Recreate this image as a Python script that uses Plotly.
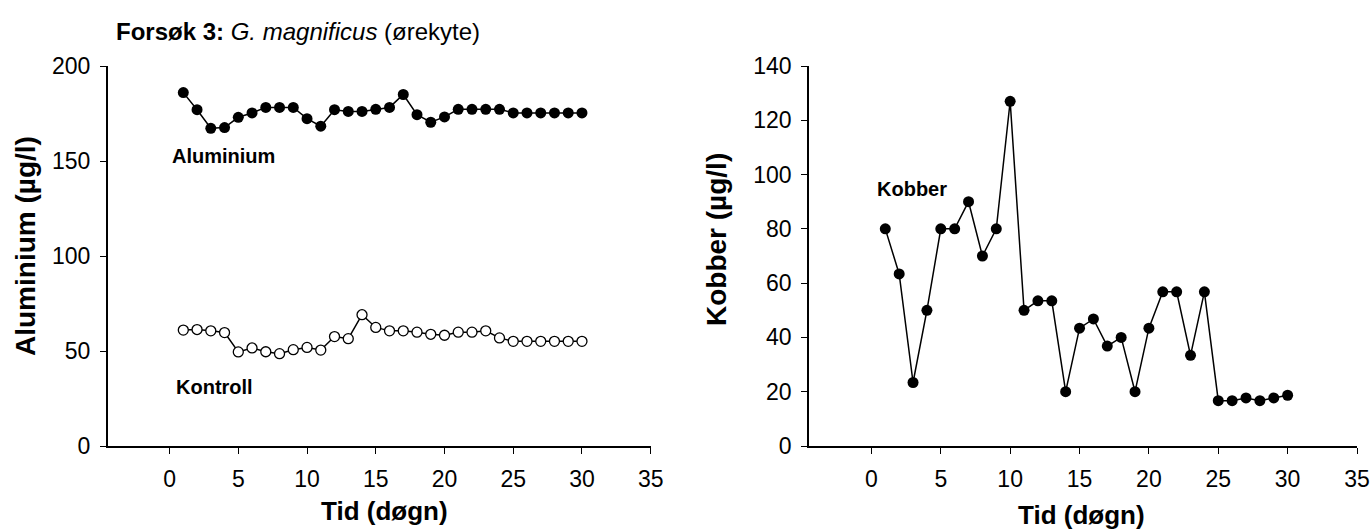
import plotly.graph_objects as go

days = list(range(1, 31))
aluminium = [186, 177, 167.2, 167.6, 173, 175.3, 178.2, 178.2, 178.2, 172.3,
             168.3, 177, 176.1, 176.1, 177.2, 178.2, 185, 174.4, 170.4, 173.2,
             177.2, 177.2, 177.2, 177.2, 175.3, 175.3, 175.3, 175.3, 175.3, 175.3]
kontroll = [61, 61.3, 60.6, 59.7, 49.5, 51.6, 49.6, 48.6, 50.7, 51.9,
            50.5, 57.6, 56.5, 69.1, 62.4, 60.6, 60.6, 59.9, 58.8, 58.3,
            59.9, 59.9, 60.6, 56.9, 55.1, 55.1, 55.1, 55.1, 55.1, 55.1]
kobber = [80, 63.4, 23.4, 50, 80, 80, 90, 70, 80, 127,
          50, 53.5, 53.5, 20, 43.4, 46.8, 36.8, 40, 20, 43.4,
          56.8, 56.8, 33.4, 56.8, 16.7, 16.7, 17.7, 16.7, 17.7, 18.7]

x_ticks = [0, 5, 10, 15, 20, 25, 30, 35]
al_ticks = [0, 50, 100, 150, 200]
cu_ticks = [0, 20, 40, 60, 80, 100, 120, 140]

FONT = "Liberation Sans, Arial, sans-serif"
W, H = 1372, 531

fig = go.Figure()
fig.add_trace(go.Scatter(x=days, y=aluminium, mode="lines+markers", name="Aluminium",
                         line=dict(color="black", width=1.5),
                         marker=dict(size=11, color="black"),
                         xaxis="x", yaxis="y"))
fig.add_trace(go.Scatter(x=days, y=kontroll, mode="lines+markers", name="Kontroll",
                         line=dict(color="black", width=1.5),
                         marker=dict(size=10, color="white", line=dict(color="black", width=1.3)),
                         xaxis="x", yaxis="y"))
fig.add_trace(go.Scatter(x=days, y=kobber, mode="lines+markers", name="Kobber",
                         line=dict(color="black", width=1.5),
                         marker=dict(size=11, color="black"),
                         xaxis="x2", yaxis="y2"))

y_dom = [1 - 446 / H, 1 - 66 / H]
axis_common = dict(showline=True, linecolor="black", linewidth=1.5, showgrid=False,
                   zeroline=False, ticks="outside", ticklen=6, tickwidth=1.3,
                   tickcolor="black", automargin=False,
                   tickfont=dict(family=FONT, size=23, color="black"))

fig.update_layout(
    template="none",
    width=W, height=H, margin=dict(l=0, r=0, t=0, b=0, pad=0, autoexpand=False),
    paper_bgcolor="white", plot_bgcolor="white", showlegend=False,
    font=dict(family=FONT, color="black"),
    xaxis=dict(domain=[107.7 / W, 650.7 / W], range=[-4.5, 35], tickvals=x_ticks,
               anchor="y", ticklabelstandoff=6, **axis_common),
    yaxis=dict(domain=y_dom, range=[0, 200], tickvals=al_ticks, anchor="x",
               ticklabelstandoff=5, **axis_common),
    xaxis2=dict(domain=[809 / W, 1357 / W], range=[-4.5, 35], tickvals=x_ticks,
                anchor="y2", ticklabelstandoff=6, **axis_common),
    yaxis2=dict(domain=y_dom, range=[0, 140], tickvals=cu_ticks, anchor="x2",
                ticklabelstandoff=5, **axis_common),
)

ann = []
ann.append(dict(text="<b>Forsøk 3:</b> <i>G. magnificus</i> (ørekyte)", xref="paper", yref="paper",
                x=114 / W, y=1 - 32 / H, xanchor="left", yanchor="middle", showarrow=False,
                font=dict(family=FONT, size=24, color="black")))
ann.append(dict(text="<b>Aluminium (µg/l)</b>", xref="paper", yref="paper", x=26 / W, y=1 - 246 / H,
                xanchor="center", yanchor="middle", textangle=-90, showarrow=False,
                font=dict(family=FONT, size=28, color="black")))
ann.append(dict(text="<b>Kobber (µg/l)</b>", xref="paper", yref="paper", x=716 / W, y=1 - 240 / H,
                xanchor="center", yanchor="middle", textangle=-90, showarrow=False,
                font=dict(family=FONT, size=28, color="black")))
ann.append(dict(text="<b>Tid (døgn)</b>", xref="paper", yref="paper", x=385 / W, y=1 - 511 / H,
                xanchor="center", yanchor="middle", showarrow=False,
                font=dict(family=FONT, size=26, color="black")))
ann.append(dict(text="<b>Tid (døgn)</b>", xref="paper", yref="paper", x=1081 / W, y=1 - 515 / H,
                xanchor="center", yanchor="middle", showarrow=False,
                font=dict(family=FONT, size=26, color="black")))
ann.append(dict(text="<b>Aluminium</b>", xref="x", yref="y", x=0.05, y=152.5,
                xanchor="left", yanchor="middle", showarrow=False,
                font=dict(family=FONT, size=20, color="black")))
ann.append(dict(text="<b>Kontroll</b>", xref="x", yref="y", x=0.35, y=31,
                xanchor="left", yanchor="middle", showarrow=False,
                font=dict(family=FONT, size=20, color="black")))
ann.append(dict(text="<b>Kobber</b>", xref="x2", yref="y2", x=0.28, y=94.8,
                xanchor="left", yanchor="middle", showarrow=False,
                font=dict(family=FONT, size=20, color="black")))
fig.update_layout(annotations=ann)

fig.write_html("out.html", config={"displayModeBar": False},
               post_script="document.body.style.margin='0px';")
